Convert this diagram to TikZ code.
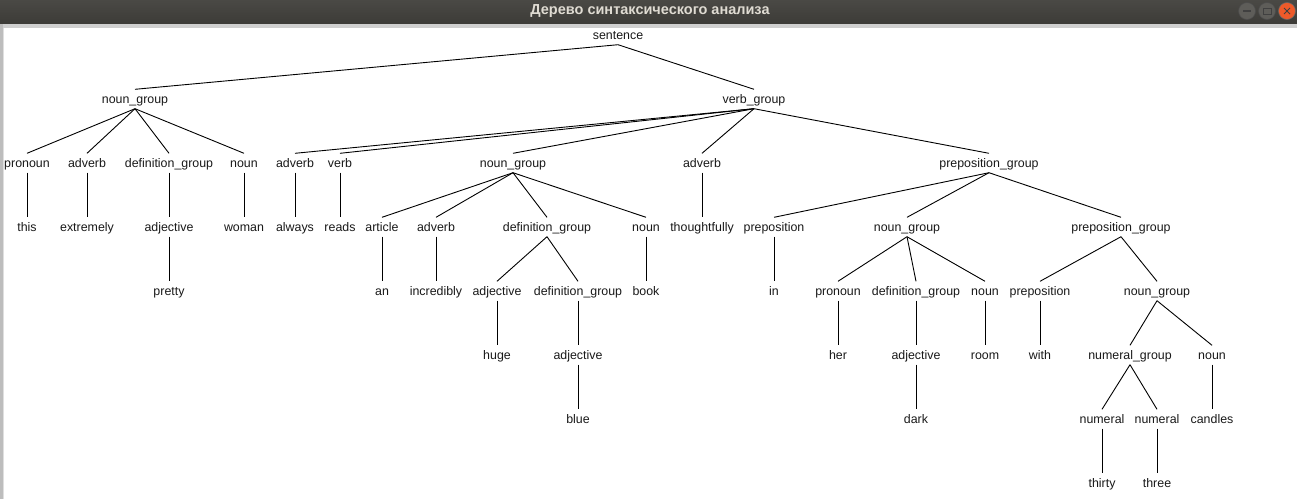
\documentclass[tikz,border=0pt]{standalone}
\usepackage{fontspec}
\setmainfont{Liberation Sans}
\newfontfamily\titlefont{Liberation Sans}
\definecolor{bartop}{HTML}{4A4945}
\definecolor{barbot}{HTML}{3C3B37}
\definecolor{titletxt}{HTML}{DFDBD2}
\definecolor{btngray}{HTML}{5E5D59}
\definecolor{btnorange}{HTML}{EE5A2A}
\definecolor{bandgray}{HTML}{CFCFCF}
\definecolor{leftgray}{HTML}{BDBDBD}
\begin{document}
\begin{tikzpicture}[x=1pt,y=-1pt,
  tn/.style={font=\fontsize{12.4}{14}\selectfont, inner sep=0pt, minimum height=19pt,
     text height=10pt, text depth=2pt, text=black!90},
  edge/.style={line width=0.9pt, black}]
\useasboundingbox (0,0) rectangle (1297,499);
% window chrome
\fill[white] (0,0) rectangle (1297,499);
\shade[top color=bartop, bottom color=barbot] (0,0) rectangle (1297,24);
\fill[bandgray] (0,24) rectangle (1297,28);
\fill[leftgray] (0,24) rectangle (3,499);
\fill[gray!25] (3,28) rectangle (4,499);
\node[font=\titlefont\bfseries\fontsize{14.5}{16}\selectfont, text=titletxt, inner sep=0pt] (title) at (650,11.5) {Дерево синтаксического анализа};
\node[circle, minimum size=17pt, inner sep=0pt, fill=btngray, draw=black!70, line width=0.6pt] (bmin) at (1247,11) {};
\node[circle, minimum size=17pt, inner sep=0pt, fill=btngray, draw=black!70, line width=0.6pt] (bmax) at (1267,11) {};
\node[circle, minimum size=17pt, inner sep=0pt, fill=btnorange, draw=black!60, line width=0.6pt] (bclose) at (1287,11) {};
\draw[black!75, line width=1.2pt] ([xshift=-4pt]bmin.center) -- ([xshift=4pt]bmin.center);
\draw[black!75, line width=1pt] ([xshift=-4pt,yshift=-3pt]bmax.center) rectangle ([xshift=4pt,yshift=3pt]bmax.center);
\draw[black!75, line width=1pt] ([xshift=-3pt,yshift=-3pt]bclose.center) -- ([xshift=3pt,yshift=3pt]bclose.center);
\draw[black!75, line width=1pt] ([xshift=-3pt,yshift=3pt]bclose.center) -- ([xshift=3pt,yshift=-3pt]bclose.center);
% level 0
\node[tn] (s) at (618,35) {sentence};
% level 1
\node[tn] (ng1) at (135,99) {noun\_group};
\node[tn] (vg) at (754,99) {verb\_group};
% level 2
\node[tn] (pron1) at (27,163) {pronoun};
\node[tn] (adv1) at (87,163) {adverb};
\node[tn] (dg1) at (169,163) {definition\_group};
\node[tn] (noun1) at (244,163) {noun};
\node[tn] (adv2) at (295,163) {adverb};
\node[tn] (verb) at (340,163) {verb};
\node[tn] (ng2) at (513,163) {noun\_group};
\node[tn] (adv3) at (702,163) {adverb};
\node[tn] (pg1) at (989,163) {preposition\_group};
% level 3
\node[tn] (this) at (27,227) {this};
\node[tn] (extremely) at (87,227) {extremely};
\node[tn] (adj1) at (169,227) {adjective};
\node[tn] (woman) at (244,227) {woman};
\node[tn] (always) at (295,227) {always};
\node[tn] (reads) at (340,227) {reads};
\node[tn] (art) at (382,227) {article};
\node[tn] (adv4) at (436,227) {adverb};
\node[tn] (dg2) at (547,227) {definition\_group};
\node[tn] (noun2) at (646,227) {noun};
\node[tn] (thoughtfully) at (702,227) {thoughtfully};
\node[tn] (prep1) at (774,227) {preposition};
\node[tn] (ng3) at (907,227) {noun\_group};
\node[tn] (pg2) at (1121,227) {preposition\_group};
% level 4
\node[tn] (pretty) at (169,291) {pretty};
\node[tn] (an) at (382,291) {an};
\node[tn] (incredibly) at (436,291) {incredibly};
\node[tn] (adj2) at (497,291) {adjective};
\node[tn] (dg3) at (578,291) {definition\_group};
\node[tn] (book) at (646,291) {book};
\node[tn] (in) at (774,291) {in};
\node[tn] (pron2) at (838,291) {pronoun};
\node[tn] (dg4) at (916,291) {definition\_group};
\node[tn] (noun3) at (985,291) {noun};
\node[tn] (prep2) at (1040,291) {preposition};
\node[tn] (ng4) at (1157,291) {noun\_group};
% level 5
\node[tn] (huge) at (497,355) {huge};
\node[tn] (adj3) at (578,355) {adjective};
\node[tn] (her) at (838,355) {her};
\node[tn] (adj4) at (916,355) {adjective};
\node[tn] (room) at (985,355) {room};
\node[tn] (with) at (1040,355) {with};
\node[tn] (numg) at (1130,355) {numeral\_group};
\node[tn] (noun4) at (1212,355) {noun};
% level 6
\node[tn] (blue) at (578,419) {blue};
\node[tn] (dark) at (916,419) {dark};
\node[tn] (num1) at (1102,419) {numeral};
\node[tn] (num2) at (1157,419) {numeral};
\node[tn] (candles) at (1212,419) {candles};
% level 7
\node[tn] (thirty) at (1102,483) {thirty};
\node[tn] (three) at (1157,483) {three};
% edges
\foreach \p/\c in {s/ng1, s/vg,
  ng1/pron1, ng1/adv1, ng1/dg1, ng1/noun1,
  vg/adv2, vg/verb, vg/ng2, vg/adv3, vg/pg1,
  pron1/this, adv1/extremely, dg1/adj1, noun1/woman, adv2/always, verb/reads,
  ng2/art, ng2/adv4, ng2/dg2, ng2/noun2, adv3/thoughtfully,
  pg1/prep1, pg1/ng3, pg1/pg2,
  adj1/pretty, art/an, adv4/incredibly, dg2/adj2, dg2/dg3, noun2/book,
  prep1/in, ng3/pron2, ng3/dg4, ng3/noun3, pg2/prep2, pg2/ng4,
  adj2/huge, dg3/adj3, pron2/her, dg4/adj4, noun3/room, prep2/with,
  ng4/numg, ng4/noun4,
  adj3/blue, adj4/dark, numg/num1, numg/num2, noun4/candles,
  num1/thirty, num2/three}
  \draw[edge] (\p.south) -- (\c.north);
\end{tikzpicture}
\end{document}
